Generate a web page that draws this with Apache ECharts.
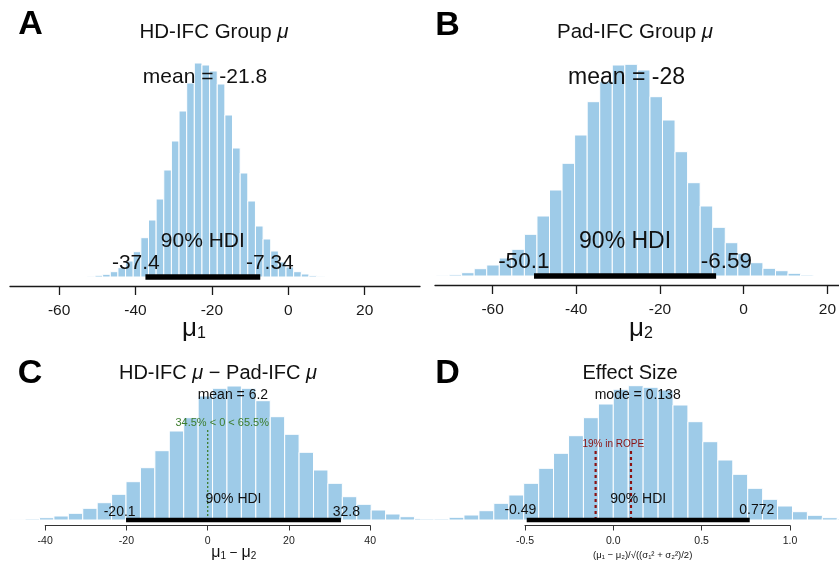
<!DOCTYPE html>
<html>
<head>
<meta charset="utf-8">
<script src="https://cdn.jsdelivr.net/npm/echarts@6.0.0/dist/echarts.min.js"></script>
<style>
  html, body { margin: 0; padding: 0; background: #fff; }
  #main { width: 839px; height: 562px; }
</style>
</head>
<body>
<div id="main"></div>
<script>
// ---- data (bar heights are px above the baseline) ----
// A: HD-IFC group mu
const aCenters = [-51.6, -49.6, -47.6, -45.6, -43.6, -41.6, -39.6, -37.6, -35.6, -33.6, -31.6, -29.6, -27.6, -25.6, -23.6,
  -21.6, -19.6, -17.6, -15.6, -13.6, -11.6, -9.6, -7.6, -5.6, -3.6, -1.6, 0.4, 2.4, 4.4, 6.4, 8.4];
const aHeights = [0.7, 1.7, 2.7, 5.3, 9.3, 16, 25.3, 39.3, 57, 78, 107, 136, 166, 194, 214,
  212, 206, 193, 162, 129, 104, 76, 51, 38, 26, 15, 10, 5.3, 3, 1.3, 0.7];
const aBinWidth = 2;
const aTicks = [-60, -40, -20, 0, 20];
const aMean = -21.8;
const aHdi = [-37.4, -7.34];

// B: Pad-IFC group mu
const bCenters = [-71.9, -68.9, -65.9, -62.9, -59.9, -56.9, -53.9, -50.9, -47.9, -44.9, -41.9, -38.9, -35.9, -32.9, -29.9,
  -26.9, -23.9, -20.9, -17.9, -14.9, -11.9, -8.9, -5.9, -2.9, 0.1, 3.1, 6.1, 9.1, 12.1, 15.1];
const bHeights = [0.7, 1.3, 3.3, 7.3, 11, 18, 26.7, 41.7, 60, 86, 112.7, 141, 174.3, 194.3, 211,
  211.7, 206, 179.3, 156, 124.3, 93.3, 70, 48.7, 33.3, 22.7, 13.3, 7.7, 5.3, 2.7, 1];
const bBinWidth = 3;
const bTicks = [-60, -40, -20, 0, 20];
const bMean = -28;
const bHdi = [-50.1, -6.59];

// C: difference of means
const cCenters = [-46.73, -43.18, -39.63, -36.08, -32.53, -28.98, -25.43, -21.88, -18.33, -14.78, -11.23, -7.68, -4.13, -0.58,
  2.97, 6.52, 10.07, 13.62, 17.17, 20.72, 24.27, 27.82, 31.37, 34.92, 38.47, 42.02, 45.57, 49.12, 52.67];
const cHeights = [0.3, 1, 2.3, 4, 6.7, 11.7, 17.3, 25.7, 38.3, 52.3, 69.3, 89, 102.3, 124,
  131.7, 134, 131.7, 119.3, 103.3, 85.7, 67.7, 50, 36.7, 23.3, 15.7, 10, 6, 3.3, 1.3];
const cBinWidth = 3.55;
const cTickRange = [-40, 40, 20];
const cMean = 6.2;
const cHdi = [-20.1, 32.8];
const cCompVal = 0;
const cPct = [34.5, 65.5];

// D: effect size
const dCenters = [-1.056, -0.972, -0.887, -0.803, -0.718, -0.634, -0.549, -0.465, -0.380, -0.296, -0.211, -0.127, -0.042,
  0.042, 0.127, 0.211, 0.296, 0.380, 0.465, 0.549, 0.634, 0.718, 0.803, 0.887, 0.972, 1.056, 1.141, 1.225, 1.310];
const dHeights = [1, 1, 2.7, 5, 9.3, 16.7, 25, 36.7, 51.7, 66.7, 84.3, 102.3, 116,
  130.7, 134.3, 132.7, 130, 115, 98.3, 78.3, 60, 45.7, 31.7, 20.7, 14, 8.3, 4.7, 2.3, 1];
const dBinWidth = 0.0845;
const dTickRange = [-0.5, 1.0, 0.5];
const dMode = 0.138;
const dHdi = [-0.49, 0.772];
const dRope = [-0.1, 0.1];
const dRopePct = 19;

// ---- styling ----
const FONT = '"Liberation Sans", Arial, Helvetica, sans-serif';
const BAR = '#9ecbe8';
const INK = '#111';
const GREEN = '#3d7d2d';
const RED = '#8b1212';

const measure = document.createElement('canvas').getContext('2d');
function textWidth(s, size) {
  measure.font = size + 'px ' + FONT;
  return measure.measureText(s).width;
}

const grid = [], xAxis = [], yAxis = [], series = [];

function addPanel(p) {
  const gi = grid.length;
  grid.push({ left: p.left, top: p.top, width: p.right - p.left, height: p.base - p.top });
  xAxis.push(Object.assign({
    gridIndex: gi,
    type: 'value',
    min: (p.left - p.zero) / p.scale,
    max: (p.right - p.zero) / p.scale,
    splitLine: { show: false }
  }, p.axis));
  yAxis.push({ gridIndex: gi, type: 'value', min: 0, max: p.base - p.top, show: false });

  // histogram bars
  series.push({
    type: 'custom', xAxisIndex: gi, yAxisIndex: gi, clip: true, silent: true, z: 2,
    data: p.centers.map((c, i) => [c, p.heights[i]]),
    renderItem: (params, api) => {
      const c = api.value(0), h = api.value(1);
      const a = api.coord([c - p.binW / 2, h]);
      const b = api.coord([c + p.binW / 2, 0]);
      return {
        type: 'rect',
        shape: { x: a[0], y: a[1], width: b[0] - a[0], height: b[1] - a[1] },
        style: { fill: BAR, stroke: '#fff', lineWidth: 1 }
      };
    }
  });

  // dotted reference lines
  (p.guides || []).forEach(g => series.push({
    type: 'line', xAxisIndex: gi, yAxisIndex: gi, clip: false, silent: true, symbol: 'none', z: 3,
    data: [[g.x, 0], [g.x, g.top]],
    lineStyle: { color: g.color, width: g.width, type: g.dash }
  }));

  // HDI bar
  series.push({
    type: 'line', xAxisIndex: gi, yAxisIndex: gi, clip: false, silent: true, symbol: 'none', z: 4,
    data: [[p.hdi[0], 0], [p.hdi[1], 0]],
    lineStyle: { color: '#000', width: p.hdiWidth, cap: 'butt' }
  });

  // value-anchored labels
  series.push({
    type: 'custom', xAxisIndex: gi, yAxisIndex: gi, clip: false, silent: true, z: 5,
    data: p.labels.map(l => [l.x, l.y]),
    renderItem: (params, api) => {
      const l = p.labels[params.dataIndex];
      const pt = api.coord([api.value(0), api.value(1)]);
      return {
        type: 'text',
        x: pt[0] - l.adj * textWidth(l.text, l.size),
        y: pt[1],
        style: {
          text: l.text, fontSize: l.size, fontFamily: FONT, fill: l.color || INK,
          align: 'left', verticalAlign: 'middle'
        }
      };
    }
  });
}

// a bare axis that only spans the tick range (R style)
function addTickAxis(p, range, fmt) {
  const gi = grid.length;
  const x0 = p.zero + p.scale * range[0];
  const x1 = p.zero + p.scale * range[1];
  grid.push({ left: x0, width: x1 - x0, top: p.axisY - 10, height: 10 });
  xAxis.push({
    gridIndex: gi, type: 'value', min: range[0], max: range[1], interval: range[2],
    splitLine: { show: false },
    axisLine: { onZero: false, lineStyle: { color: '#333', width: 1 } },
    axisTick: { length: 5, lineStyle: { color: '#333', width: 1 } },
    axisLabel: { margin: 10, fontSize: 10.5, fontFamily: FONT, color: '#222', formatter: fmt }
  });
  yAxis.push({ gridIndex: gi, type: 'value', min: 0, max: 1, show: false });
}

function bigAxis(ticks) {
  return {
    offset: 9,
    axisLine: { onZero: false, lineStyle: { color: '#1a1a1a', width: 1.3 } },
    axisTick: { customValues: ticks, length: 9, lineStyle: { color: '#1a1a1a', width: 1.3 } },
    axisLabel: { customValues: ticks, margin: 17, fontSize: 15.5, fontFamily: FONT, color: '#1a1a1a' }
  };
}
const hidden = { show: false };

const panelA = {
  centers: aCenters, heights: aHeights, binW: aBinWidth,
  zero: 288.3, scale: 3.82, left: 10, right: 420, top: 40, base: 277,
  axis: bigAxis(aTicks), hdi: aHdi, hdiWidth: 5.5,
  labels: [
    { x: aMean, y: 199.5, text: 'mean = ' + aMean, size: 21, adj: 0.5 },
    { x: (aHdi[0] + aHdi[1]) / 2, y: 35.3, text: '90% HDI', size: 21, adj: 0.5 },
    { x: aHdi[0], y: 13.7, text: String(aHdi[0]), size: 21, adj: 0.7 },
    { x: aHdi[1], y: 13.7, text: String(aHdi[1]), size: 21, adj: 0.3 }
  ]
};
const panelB = {
  centers: bCenters, heights: bHeights, binW: bBinWidth,
  zero: 743.7, scale: 4.185, left: 435, right: 839, top: 40, base: 276,
  axis: bigAxis(bTicks), hdi: bHdi, hdiWidth: 5.5,
  labels: [
    { x: bMean, y: 198, text: 'mean = ' + bMean, size: 23, adj: 0.5 },
    { x: (bHdi[0] + bHdi[1]) / 2, y: 34.3, text: '90% HDI', size: 23, adj: 0.5 },
    { x: bHdi[0], y: 14.3, text: String(bHdi[0]), size: 22.5, adj: 0.7 },
    { x: bHdi[1], y: 14.3, text: String(bHdi[1]), size: 22.5, adj: 0.3 }
  ]
};
const panelC = {
  centers: cCenters, heights: cHeights, binW: cBinWidth,
  zero: 207.7, scale: 4.0625, left: 10, right: 420, top: 380, base: 520, axisY: 525.5,
  axis: hidden, hdi: cHdi, hdiWidth: 4.6,
  guides: [{ x: cCompVal, top: 92, color: GREEN, width: 1.3, dash: [2, 2] }],
  labels: [
    { x: cMean, y: 125, text: 'mean = ' + cMean, size: 14, adj: 0.5 },
    { x: cCompVal, y: 97.3, text: cPct[0] + '% < ' + cCompVal + ' < ' + cPct[1] + '%', size: 11, adj: cPct[0] / 100, color: GREEN },
    { x: (cHdi[0] + cHdi[1]) / 2, y: 20.7, text: '90% HDI', size: 14, adj: 0.5 },
    { x: cHdi[0], y: 8.3, text: String(cHdi[0]), size: 14, adj: 0.7 },
    { x: cHdi[1], y: 8.3, text: String(cHdi[1]), size: 14, adj: 0.3 }
  ]
};
const panelD = {
  centers: dCenters, heights: dHeights, binW: dBinWidth,
  zero: 613.3, scale: 176.7, left: 420, right: 839, top: 380, base: 520, axisY: 525.5,
  axis: hidden, hdi: dHdi, hdiWidth: 4.6,
  guides: dRope.map(r => ({ x: r, top: 72, color: RED, width: 2.2, dash: [3, 3] })),
  labels: [
    { x: dMode, y: 125, text: 'mode = ' + dMode, size: 14, adj: 0.5 },
    { x: (dRope[0] + dRope[1]) / 2, y: 76, text: dRopePct + '% in ROPE', size: 10, adj: 0.5, color: RED },
    { x: (dHdi[0] + dHdi[1]) / 2, y: 20.7, text: '90% HDI', size: 14, adj: 0.5 },
    { x: dHdi[0], y: 9.7, text: String(dHdi[0]), size: 14, adj: 0.7 },
    { x: dHdi[1], y: 9.7, text: String(dHdi[1]), size: 14, adj: 0.3 }
  ]
};

addPanel(panelA);
addPanel(panelB);
addPanel(panelC);
addPanel(panelD);
addTickAxis(panelC, cTickRange, v => String(v));
addTickAxis(panelD, dTickRange, v => v.toFixed(1));

// ---- titles, panel letters, axis names ----
function letter(t, x, y) {
  return { type: 'text', x: x, y: y, silent: true,
    style: { text: t, fontSize: 34, fontWeight: 'bold', fontFamily: FONT, fill: '#000', align: 'center', verticalAlign: 'middle' } };
}
function rich(text, x, y, richStyles) {
  return { type: 'text', x: x, y: y, silent: true,
    style: { text: text, align: 'center', verticalAlign: 'middle', fontFamily: FONT, fill: INK, rich: richStyles } };
}
const titleRich = size => ({
  t: { fontSize: size, fontFamily: FONT, fill: INK },
  i: { fontSize: size, fontFamily: FONT, fill: INK, fontStyle: 'italic' }
});
const muRich = (big, small) => ({
  m: { fontSize: big, fontFamily: FONT, fill: INK },
  s: { fontSize: small, fontFamily: FONT, fill: INK, lineHeight: small / 2, verticalAlign: 'bottom' },
  o: { fontSize: big * 0.85, fontFamily: FONT, fill: INK }
});

const graphic = [
  letter('A', 30.5, 25),
  letter('B', 447.5, 25.8),
  letter('C', 30, 374),
  letter('D', 447.5, 374),
  rich('{t|HD-IFC Group }{i|μ}', 214, 32, titleRich(20.5)),
  rich('{t|Pad-IFC Group }{i|μ}', 635, 32.5, titleRich(20.5)),
  rich('{t|HD-IFC }{i|μ}{t| − Pad-IFC }{i|μ}', 218, 373.3, titleRich(20)),
  rich('{t|Effect Size}', 630, 373.3, titleRich(20)),
  rich('{m|μ}{s|1}', 194, 328.5, muRich(26, 16)),
  rich('{m|μ}{s|2}', 641, 328.5, muRich(26, 16)),
  rich('{m|μ}{s|1}{o| − }{m|μ}{s|2}', 233.8, 552.8, muRich(16, 10)),
  rich('{t|(μ₁ − μ₂)/√((σ₁² + σ₂²)/2)}', 642.7, 555, titleRich(9.5))
];

const chart = echarts.init(document.getElementById('main'), null, { renderer: 'canvas', devicePixelRatio: 1 });
chart.setOption({
  animation: false,
  backgroundColor: '#fff',
  grid: grid,
  xAxis: xAxis,
  yAxis: yAxis,
  series: series,
  graphic: graphic
});
</script>
</body>
</html>
